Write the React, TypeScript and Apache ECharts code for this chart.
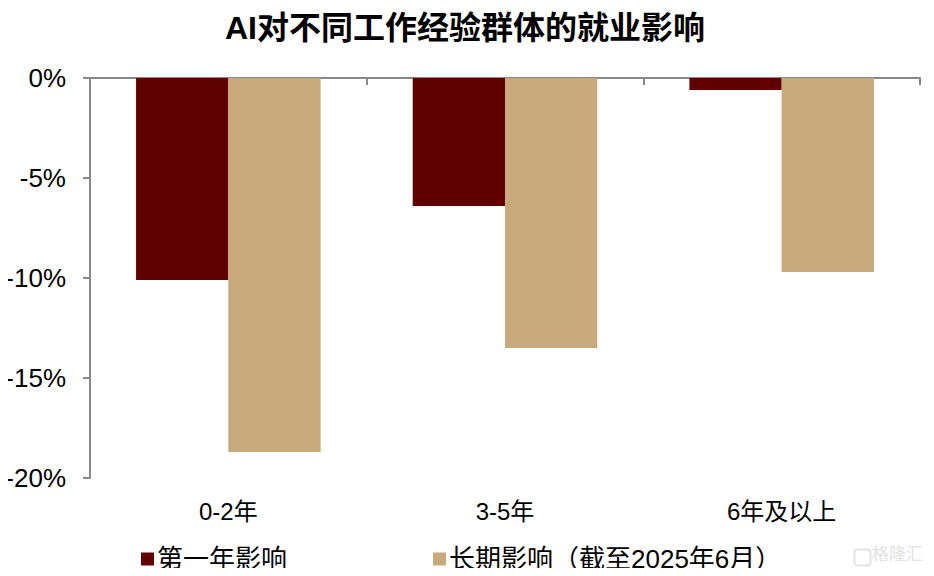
import React, { useEffect, useRef } from "react";
import * as echarts from "echarts";

const categories = ["0-2年", "3-5年", "6年及以上"];
const seriesNames = ["第一年影响", "长期影响（截至2025年6月）"];
const firstYear = [-10.1, -6.4, -0.6];
const longTerm = [-18.7, -13.5, -9.7];
const yTicks = [0, -5, -10, -15, -20];

const CJK = '"Liberation Sans", Arial, "Noto Sans CJK SC", sans-serif';

export default function App() {
  const ref = useRef<HTMLDivElement>(null);
  useEffect(() => {
    const chart = echarts.init(ref.current!, null, { renderer: "svg" });
    chart.setOption({
      animation: false,
      backgroundColor: "#ffffff",
      title: {
        text: "AI对不同工作经验群体的就业影响",
        left: 460,
        textAlign: "center",
        top: 7,
        textStyle: { fontFamily: CJK, fontSize: 32, fontWeight: "bold", color: "#000" },
      },
      grid: { left: 90, right: 14, top: 78, bottom: 98 },
      legend: [
        {
          data: [seriesNames[0]],
          left: 136,
          top: 541,
          icon: "rect",
          itemWidth: 13,
          itemHeight: 13,
          itemGap: 4,
          textStyle: { fontFamily: CJK, fontSize: 26, color: "#000", padding: [0, 0, 0, -2] },
        },
        {
          data: [seriesNames[1]],
          left: 428,
          top: 541,
          icon: "rect",
          itemWidth: 13,
          itemHeight: 13,
          itemGap: 4,
          textStyle: { fontFamily: CJK, fontSize: 26, color: "#000", padding: [0, 0, 0, -2] },
        },
      ],
      xAxis: [
        {
          type: "category",
          data: categories,
          position: "top",
          axisLine: { show: true, onZero: false, lineStyle: { color: "#898989", width: 2 } },
          axisTick: { show: true, inside: true, length: 7, lineStyle: { color: "#898989", width: 2 } },
          axisLabel: { show: false },
        },
        {
          type: "category",
          data: categories,
          position: "bottom",
          axisLine: { show: false },
          axisTick: { show: false },
          axisLabel: {
            show: true,
            margin: 21,
            fontFamily: CJK,
            fontSize: 24,
            color: "#000",
          },
        },
      ],
      yAxis: {
        type: "value",
        min: -20,
        max: 0,
        interval: 5,
        axisLine: { show: true, lineStyle: { color: "#898989", width: 2 } },
        axisTick: { show: true, inside: false, length: 7, lineStyle: { color: "#898989", width: 2 } },
        splitLine: { show: false },
        axisLabel: {
          margin: 24,
          fontFamily: CJK,
          fontSize: 26,
          color: "#000",
          formatter: (v: number) => (yTicks.includes(v) ? `${v}%` : ""),
        },
      },
      series: [
        {
          name: seriesNames[0],
          type: "bar",
          xAxisIndex: 0,
          data: firstYear,
          barGap: "0%",
          barCategoryGap: "33.3%",
          itemStyle: { color: "#600000" },
        },
        {
          name: seriesNames[1],
          type: "bar",
          xAxisIndex: 0,
          data: longTerm,
          barGap: "0%",
          barCategoryGap: "33.3%",
          itemStyle: { color: "#C8A97B" },
        },
      ],
      graphic: [
        {
          type: "rect",
          left: 852,
          top: 547,
          shape: { width: 16, height: 16, r: 3 },
          style: { fill: "none", stroke: "#e4e4e4", lineWidth: 2 },
        },
        {
          type: "text",
          left: 872,
          top: 546,
          style: { text: "格隆汇", fill: "#e2e2e2", fontSize: 17, fontFamily: CJK },
        },
      ],
    });
    return () => chart.dispose();
  }, []);
  return <div ref={ref} style={{ width: 934, height: 576, margin: -8 }} />;
}
